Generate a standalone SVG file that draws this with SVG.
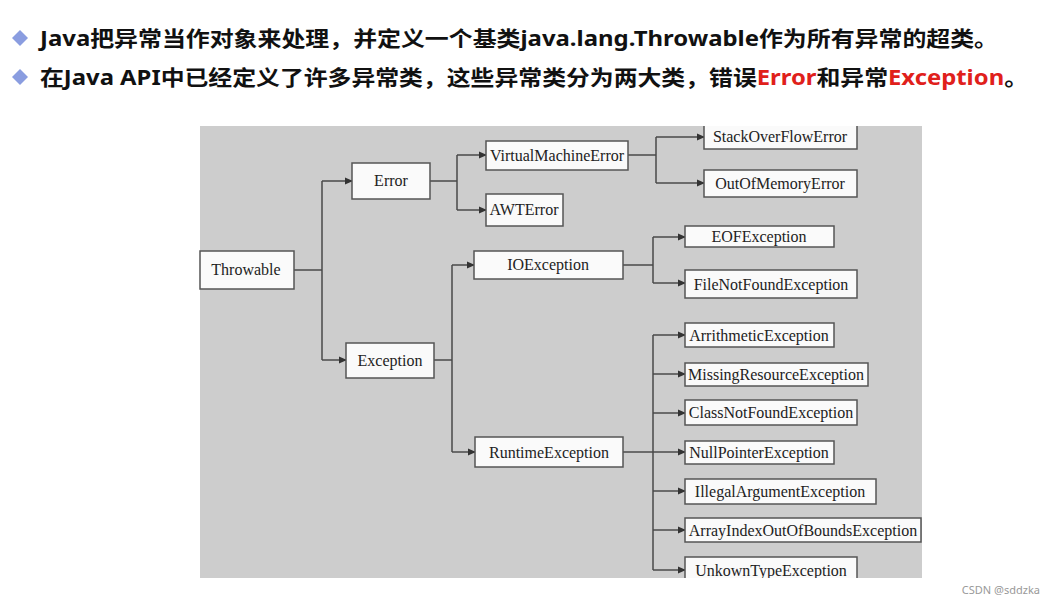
<svg xmlns="http://www.w3.org/2000/svg" width="1052" height="604" viewBox="0 0 1052 604">
<style>
.h{font-family:"Noto Sans","Noto Sans CJK SC",sans-serif;font-weight:bold;font-size:21px;fill:#111}
.r{fill:#e0201b}
.b rect{fill:#fafafa;stroke:#555;stroke-width:1.5}
.b text{font-family:"Liberation Serif",serif;font-size:16px;fill:#222;text-anchor:middle}
.c path{fill:none;stroke:#4a4a4a;stroke-width:1.5}
</style>
<defs><marker id="a" markerWidth="8" markerHeight="8" refX="7" refY="4" orient="auto" markerUnits="userSpaceOnUse"><path d="M0,0.5L8,4L0,7.5z" fill="#333"/></marker></defs>
<rect width="1052" height="604" fill="#fff"/>
<path d="M12,38l8,-8l8,8l-8,8z" fill="#8a9de0"/>
<path d="M12,77l8,-8l8,8l-8,8z" fill="#8a9de0"/>
<text class="h" x="40" y="46" textLength="958" lengthAdjust="spacingAndGlyphs">Java把异常当作对象来处理，并定义一个基类java.lang.Throwable作为所有异常的超类。</text>
<text class="h" x="40" y="85" textLength="988" lengthAdjust="spacingAndGlyphs">在Java API中已经定义了许多异常类，这些异常类分为两大类，错误<tspan class="r">Error</tspan>和异常<tspan class="r">Exception</tspan>。</text>
<rect x="200" y="126" width="722" height="452" fill="#cdcdcd"/>
<g class="c">
<path d="M294,270H322M322,181V360M322,181H352" marker-end="url(#a)"/>
<path d="M322,360H346" marker-end="url(#a)"/>
<path d="M430,181H457M457,155V210M457,155H486" marker-end="url(#a)"/>
<path d="M457,210H486" marker-end="url(#a)"/>
<path d="M434,360H452M452,265V452M452,265H474" marker-end="url(#a)"/>
<path d="M452,452H475" marker-end="url(#a)"/>
<path d="M628,155H656M656,137V183M656,137H704" marker-end="url(#a)"/>
<path d="M656,183H704" marker-end="url(#a)"/>
<path d="M623,265H653M653,237V283M653,237H685" marker-end="url(#a)"/>
<path d="M653,283H685" marker-end="url(#a)"/>
<path d="M623,452H685" marker-end="url(#a)"/>
<path d="M653,335V570M653,335H685" marker-end="url(#a)"/>
<path d="M653,374H685" marker-end="url(#a)"/>
<path d="M653,413H685" marker-end="url(#a)"/>
<path d="M653,491H685" marker-end="url(#a)"/>
<path d="M653,530H685" marker-end="url(#a)"/>
<path d="M653,570H685" marker-end="url(#a)"/>
</g>
<g class="b">
<g id="throwable"><rect x="200" y="251" width="94" height="38"/><text x="246" y="275">Throwable</text></g>
<g id="error"><rect x="352" y="163" width="78" height="36"/><text x="391" y="186">Error</text></g>
<g id="exception"><rect x="346" y="343" width="88" height="35"/><text x="390" y="366">Exception</text></g>
<g id="vme"><rect x="486" y="141" width="142" height="29"/><text x="557" y="161">VirtualMachineError</text></g>
<g id="awt"><rect x="486" y="194" width="77" height="32"/><text x="524" y="215">AWTError</text></g>
<g id="io"><rect x="474" y="251" width="149" height="28"/><text x="548" y="270">IOException</text></g>
<g id="so"><rect x="704" y="120" width="153" height="29"/><text x="780" y="142">StackOverFlowError</text></g>
<g id="oom"><rect x="704" y="170" width="153" height="27"/><text x="780" y="189">OutOfMemoryError</text></g>
<g id="eof"><rect x="685" y="226" width="149" height="21"/><text x="759" y="242">EOFException</text></g>
<g id="fnf"><rect x="685" y="270" width="172" height="28"/><text x="771" y="290">FileNotFoundException</text></g>
<g id="rt"><rect x="475" y="437" width="148" height="30"/><text x="549" y="458">RuntimeException</text></g>
<g id="ar"><rect x="685" y="323" width="149" height="24"/><text x="759" y="341">ArrithmeticException</text></g>
<g id="mr"><rect x="685" y="363" width="183" height="23"/><text x="776" y="380">MissingResourceException</text></g>
<g id="cnf"><rect x="685" y="400" width="172" height="25"/><text x="771" y="418">ClassNotFoundException</text></g>
<g id="np"><rect x="685" y="441" width="149" height="23"/><text x="759" y="458">NullPointerException</text></g>
<g id="ia"><rect x="685" y="479" width="191" height="25"/><text x="780" y="497">IllegalArgumentException</text></g>
<g id="ai"><rect x="685" y="518" width="236" height="24"/><text x="803" y="536">ArrayIndexOutOfBoundsException</text></g>
<g id="ut"><rect x="685" y="557" width="172" height="24"/><text x="771" y="576">UnkownTypeException</text></g>
</g>
<rect x="200" y="578" width="730" height="26" fill="#fff"/>
<rect x="195" y="100" width="730" height="26" fill="#fff"/>
<text x="1040" y="594" text-anchor="end" font-family="Noto Sans,sans-serif" font-size="11" fill="#999">CSDN @sddzka</text>
</svg>
